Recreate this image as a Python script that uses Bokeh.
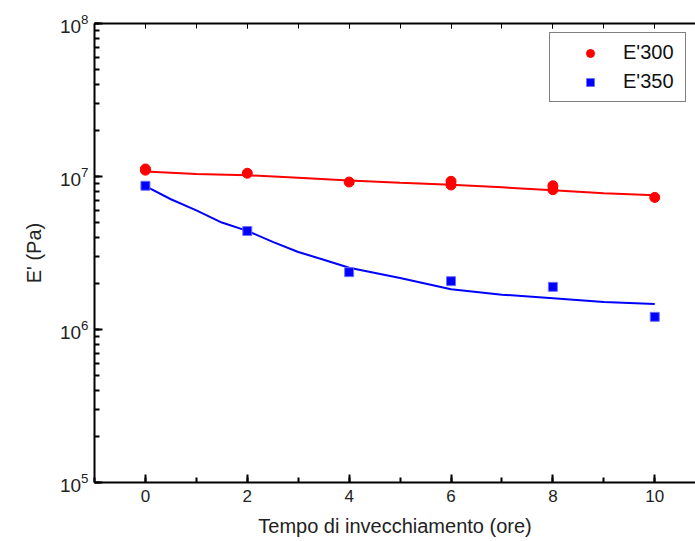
from bokeh.plotting import figure
from bokeh.models import Range1d, LinearAxis, Legend, LegendItem, SingleIntervalTicker, CustomJSTickFormatter
from bokeh.embed import file_html
from bokeh.resources import INLINE

# measured points
t_300 = [0, 0, 2, 4, 6, 6, 8, 8, 10]
e_300 = [1.12e7, 1.10e7, 1.05e7, 9.2e6, 9.3e6, 8.8e6, 8.7e6, 8.2e6, 7.3e6]
t_350 = [0, 2, 4, 6, 8, 10]
e_350 = [8.7e6, 4.4e6, 2.37e6, 2.07e6, 1.9e6, 1.21e6]

# fitted curves
fit_t_300 = [0, 1, 2, 3, 4, 5, 6, 7, 8, 9, 10]
fit_e_300 = [1.08e7, 1.04e7, 1.02e7, 9.8e6, 9.4e6, 9.1e6, 8.83e6, 8.5e6, 8.13e6, 7.77e6, 7.53e6]
fit_t_350 = [0, 0.5, 1, 1.5, 2, 2.5, 3, 3.5, 4, 5, 6, 7, 8, 9, 10]
fit_e_350 = [8.64e6, 7.1e6, 6.0e6, 5.0e6, 4.41e6, 3.74e6, 3.21e6, 2.86e6, 2.53e6,
             2.17e6, 1.83e6, 1.69e6, 1.60e6, 1.51e6, 1.47e6]

labels = ["E'300", "E'350"]
FONT = "Liberation Sans"

p = figure(width=695, height=541, y_axis_type="log",
           x_range=Range1d(-1, 10.8), y_range=Range1d(1e5, 1e8),
           output_backend="svg", toolbar_location=None,
           min_border_left=94, min_border_right=0, min_border_top=23, min_border_bottom=59)
p.outline_line_color = None
p.xgrid.visible = False
p.ygrid.visible = False
p.background_fill_color = "white"
p.border_fill_color = "white"

r_fit300 = p.line(fit_t_300, fit_e_300, line_color="#ff0000", line_width=2)
r_fit350 = p.line(fit_t_350, fit_e_350, line_color="#0000ff", line_width=2)
r300 = p.scatter(t_300, e_300, marker="circle", size=10, fill_color="#ff0000", line_color="#ff0000")
r350 = p.scatter(t_350, e_350, marker="square", size=9, fill_color="#0000ff", line_color="#7070ff", line_width=1)

xa = p.xaxis[0]
xa.ticker = SingleIntervalTicker(interval=2, num_minor_ticks=2)
xa.axis_label = "Tempo di invecchiamento (ore)"
ya = p.yaxis[0]
ya.axis_label = "E' (Pa)"

for ax in (xa, ya):
    ax.axis_line_width = 2
    ax.axis_line_color = "black"
    ax.major_tick_in = 8
    ax.major_tick_out = 0
    ax.minor_tick_in = 5
    ax.minor_tick_out = 0
    ax.major_tick_line_width = 2
    ax.minor_tick_line_width = 2
    ax.major_label_text_font = FONT
    ax.major_label_text_color = "#222222"
    ax.axis_label_text_font = FONT
    ax.axis_label_text_font_style = "normal"
    ax.axis_label_text_font_size = "20px"
    ax.axis_label_text_color = "#222222"

xa.major_label_text_font_size = "17px"
ya.major_label_text_font_size = "19px"
xa.major_label_standoff = 7
xa.axis_label_standoff = 10
ya.major_label_standoff = 6
ya.axis_label_standoff = 12

top = LinearAxis(ticker=SingleIntervalTicker(interval=2, num_minor_ticks=2),
                 formatter=CustomJSTickFormatter(code="return '';"))
top.axis_line_width = 2
top.major_tick_in = 5
top.major_tick_out = 0
top.minor_tick_in = 5
top.minor_tick_out = 0
top.major_tick_line_width = 1
top.minor_tick_line_width = 1
top.major_label_standoff = 0
p.add_layout(top, "above")

legend = Legend(items=[LegendItem(label=labels[0], renderers=[r300]),
                       LegendItem(label=labels[1], renderers=[r350])],
                location=(455, 380), orientation="vertical")
legend.border_line_color = "black"
legend.border_line_width = 1.5
legend.label_text_font = FONT
legend.label_text_font_size = "20px"
legend.label_text_color = "#111111"
legend.padding = 8
legend.margin = 0
legend.glyph_width = 64
legend.glyph_height = 20
legend.label_height = 20
legend.label_width = 54
legend.label_standoff = 1
legend.spacing = 6
legend.background_fill_alpha = 1
p.add_layout(legend)

open("out.html", "w").write(file_html(p, INLINE))
